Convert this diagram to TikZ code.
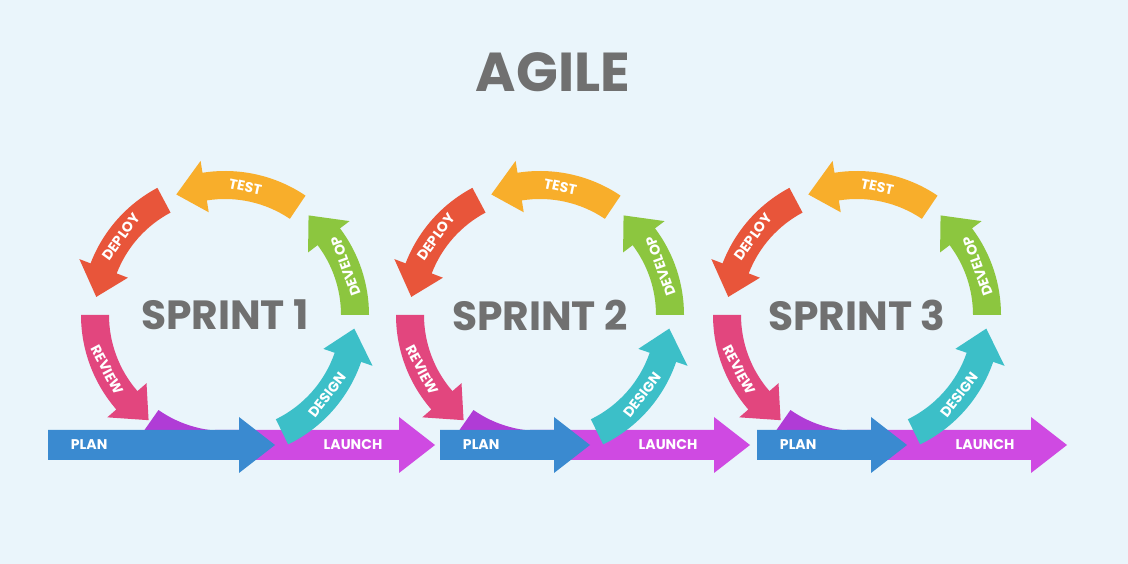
\documentclass[tikz,border=0pt]{standalone}
\usepackage{fontspec}
\setmainfont{Poppins}
\usetikzlibrary{positioning}

\definecolor{bgblue}{HTML}{EAF5FB}
\definecolor{titlegray}{HTML}{707070}
\definecolor{testc}{HTML}{F8AE2B}
\definecolor{deployc}{HTML}{E8553A}
\definecolor{reviewc}{HTML}{E2467E}
\definecolor{bottomc}{HTML}{B03CD6}
\definecolor{designc}{HTML}{3CBFC8}
\definecolor{developc}{HTML}{8CC63F}
\definecolor{planc}{HTML}{3A8AD0}
\definecolor{launchc}{HTML}{CF4AE2}

\tikzset{
  steplabel/.style={text=white, font=\bfseries\fontsize{10}{10}\selectfont},
  sprintlabel/.style={text=titlegray, font=\bfseries\fontsize{29}{29}\selectfont},
}

% curved arrow: colour, from angle, to angle
\newcommand{\arcarrow}[3]{%
  \fill[#1] (#2:144) arc[start angle=#2, end angle=#3-13, radius=144]
    -- (#3-13:156) -- (#3:130) -- (#3-13:104) -- (#3-13:116)
    arc[start angle=#3-13, end angle=#2, radius=116] -- cycle;}
% straight arrow: colour, from x, to x
\newcommand{\flatarrow}[3]{%
  \fill[#1] (#2,-145) -- (#3-36,-145) -- (#3-36,-158) -- (#3,-130)
    -- (#3-36,-102) -- (#3-36,-115) -- (#2,-115) -- cycle;}

\begin{document}
\begin{tikzpicture}[x=0.025cm, y=0.025cm]
  \fill[bgblue] (0,0) rectangle (1128,564);
  \useasboundingbox (0,0) rectangle (1128,564);
  \node[text=titlegray, font=\bfseries\fontsize{39}{39}\selectfont] (title) at (553,492) {AGILE};

  \foreach \cx/\px/\n in {225/48/1, 540/440/2, 857/757/3} {
    \begin{scope}[shift={(\cx,249)}]
      % bottom arc and launch
      \fill[bottomc] (235:144) arc[start angle=235, end angle=275, radius=144]
        -- (275:116) arc[start angle=275, end angle=235, radius=116] -- cycle;
      \flatarrow{launchc}{-10}{210}
      \flatarrow{planc}{\px-\cx}{50}
      \arcarrow{designc}{-64}{-6}
      \arcarrow{developc}{0}{50}
      \arcarrow{testc}{56}{112}
      \arcarrow{deployc}{118}{172}
      \arcarrow{reviewc}{180}{234}

      \node[sprintlabel] (sprint\n) at (0,0) {SPRINT \n};
      \node[steplabel, rotate=-12] (test\n) at (81:130) {TEST};
      \node[steplabel, rotate=54] (deploy\n) at (143:130) {DEPLOY};
      \node[steplabel, rotate=-62] (review\n) at (205:130) {REVIEW};
      \node[steplabel, rotate=52] (design\n) at (-38:130) {DESIGN};
      \node[steplabel, rotate=110] (develop\n) at (22:130) {DEVELOP};
      \node[steplabel, anchor=west] (plan\n) at (\px-\cx+18,-130) {PLAN};
      \node[steplabel] (launch\n) at (128,-130) {LAUNCH};
    \end{scope}
  }
\end{tikzpicture}
\end{document}
